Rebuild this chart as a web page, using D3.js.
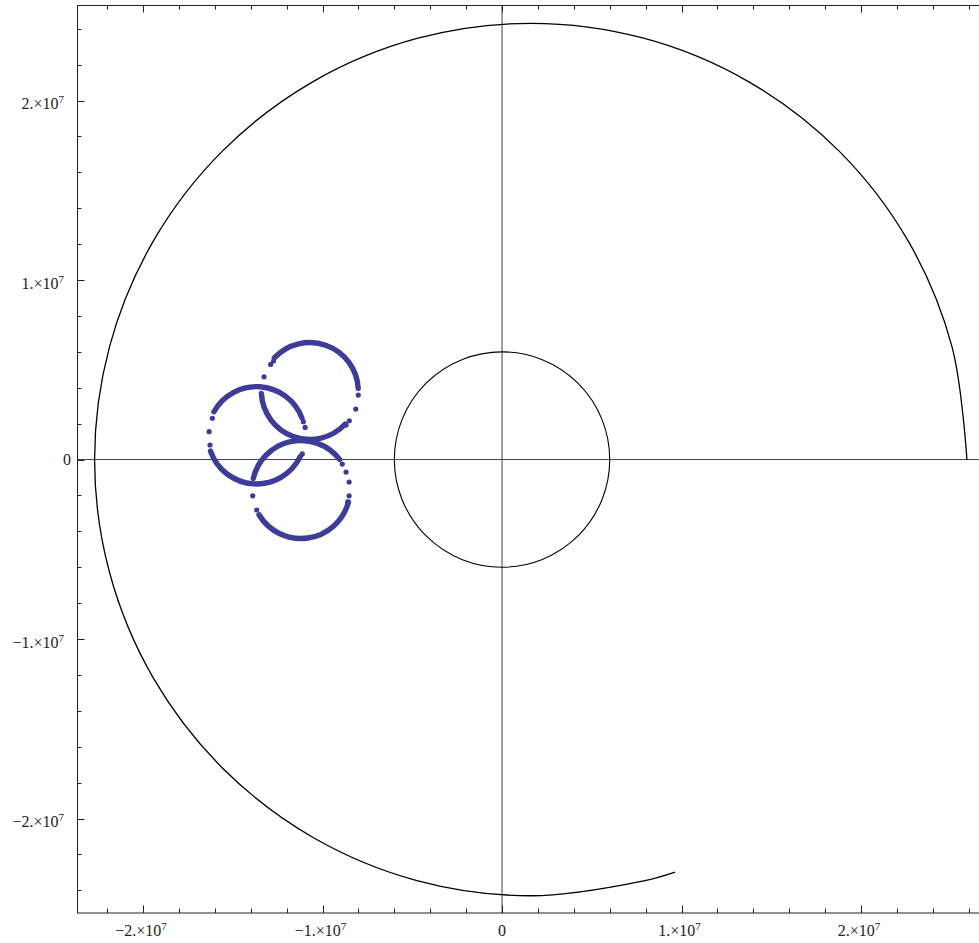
<!DOCTYPE html>
<html>
<head>
<meta charset="utf-8">
<script src="https://cdn.jsdelivr.net/npm/d3@7"></script>
<style>
  body { margin: 0; background: #fff; }
  svg { display: block; }
</style>
</head>
<body>
<svg id="chart" width="979" height="943"></svg>
<script>
// ---- plot range and ticks (metres) ----
const xRange = [-2.368e7, 2.674e7];
const yRange = [-2.526e7, 2.532e7];
const xMajorTicks = [-2e7, -1e7, 0, 1e7, 2e7];
const yMajorTicks = [-2e7, -1e7, 0, 1e7, 2e7];
const xTickLabels = ["−2.×10^7", "−1.×10^7", "0", "1.×10^7", "2.×10^7"];
const yTickLabels = ["−2.×10^7", "−1.×10^7", "0", "1.×10^7", "2.×10^7"];
const minorStep = 2e6;

// ---- central body ----
const bodyRadius = 6.0e6;

// ---- orbit track, counter-clockwise from the start point ----
const orbitX = [2.590e7, 2.507e7, 2.264e7, 1.878e7, 1.375e7, 0.789e7, 0.160e7,
  -0.469e7, -1.055e7, -1.558e7, -1.944e7, -2.187e7, -2.270e7, -2.187e7,
  -1.944e7, -1.558e7, -1.055e7, -0.469e7, 0.160e7, 0.789e7, 0.964e7];
const orbitY = [0, 0.628e7, 1.215e7, 1.718e7, 2.104e7, 2.347e7, 2.430e7,
  2.347e7, 2.104e7, 1.718e7, 1.215e7, 0.628e7, 0, -0.628e7,
  -1.215e7, -1.718e7, -2.104e7, -2.347e7, -2.430e7, -2.347e7, -2.298e7];

// ---- sampled loops: dense runs as arcs (degrees, counter-clockwise) ----
const loopCenterX = [-1.071e7, -1.368e7, -1.120e7];
const loopCenterY = [0.382e7, 0.135e7, -0.167e7];
const loopRadius = [2.70e6, 2.71e6, 2.73e6];
const loopDenseRuns = [
  [[3, 137], [183, 317]],
  [[21, 151], [199, 334]],
  [[38, 167], [211, 345]]
];
// isolated samples between the dense runs
const sparseX = [-1.289e7, -1.273e7, -1.326e7, -0.801e7, -0.815e7, -0.851e7, -0.869e7,
  -1.614e7, -1.632e7, -1.627e7, -1.107e7, -1.097e7, -1.113e7,
  -0.890e7, -0.869e7, -0.852e7, -0.852e7, -0.860e7, -1.367e7, -1.389e7];
const sparseY = [0.530e7, 0.549e7, 0.461e7, 0.359e7, 0.281e7, 0.216e7, 0.192e7,
  0.230e7, 0.155e7, 0.081e7, 0.211e7, 0.179e7, 0.031e7,
  -0.025e7, -0.070e7, -0.125e7, -0.202e7, -0.235e7, -0.281e7, -0.202e7];

const loopColor = "#3d3d99";
const serif = "'Liberation Serif', 'Times New Roman', Times, 'DejaVu Serif', serif";

// ---- layout ----
const frame = { left: 77, right: 982, top: 5, bottom: 913 };
const svg = d3.select("#chart");
const x = d3.scaleLinear().domain(xRange).range([frame.left, frame.right]);
const y = d3.scaleLinear().domain(yRange).range([frame.bottom, frame.top]);
const px = v => Math.round(v) + 0.5;

const plot = svg.append("g");

// zero axes
plot.append("line")
  .attr("x1", frame.left).attr("x2", frame.right)
  .attr("y1", y(0)).attr("y2", y(0))
  .attr("stroke", "#444").attr("stroke-width", 1);
plot.append("line")
  .attr("x1", x(0)).attr("x2", x(0))
  .attr("y1", frame.top).attr("y2", frame.bottom)
  .attr("stroke", "#444").attr("stroke-width", 1);

// central body
plot.append("circle")
  .attr("cx", x(0)).attr("cy", y(0))
  .attr("r", x(bodyRadius) - x(0))
  .attr("fill", "none").attr("stroke", "#000").attr("stroke-width", 1.1);

// orbit
const orbitPts = orbitX.map((v, i) => [v, orbitY[i]]);
plot.append("path")
  .attr("d", d3.line().x(d => x(d[0])).y(d => y(d[1])).curve(d3.curveCatmullRom.alpha(0.5))(orbitPts))
  .attr("fill", "none").attr("stroke", "#000").attr("stroke-width", 1.3);

// loops
loopCenterX.forEach((cxv, i) => {
  const cx = x(cxv), cy = y(loopCenterY[i]);
  const r = x(cxv + loopRadius[i]) - x(cxv);
  loopDenseRuns[i].forEach(([a0, a1]) => {
    const t0 = -a0 * Math.PI / 180, t1 = -a1 * Math.PI / 180;
    const p = d3.path();
    p.moveTo(cx + r * Math.cos(t0), cy + r * Math.sin(t0));
    p.arc(cx, cy, r, t0, t1, true);
    plot.append("path").attr("d", p.toString())
      .attr("fill", "none").attr("stroke", loopColor)
      .attr("stroke-width", 5.4).attr("stroke-linecap", "round");
  });
});
plot.selectAll("circle.sample")
  .data(sparseX.map((v, i) => [v, sparseY[i]]))
  .join("circle").attr("class", "sample")
  .attr("cx", d => x(d[0])).attr("cy", d => y(d[1]))
  .attr("r", 2.6).attr("fill", loopColor);

// ---- frame with inward ticks ----
const minorTicksX = d3.range(-2.2e7, 2.7e7, minorStep).filter(v => Math.abs(v % 1e7) > 1);
const minorTicksY = d3.range(-2.4e7, 2.6e7, minorStep).filter(v => Math.abs(v % 1e7) > 1);

const axes = svg.append("g").attr("stroke", "#222").attr("stroke-width", 1);
axes.append("line").attr("x1", frame.left).attr("x2", frame.right)
  .attr("y1", px(frame.bottom) - 0.5).attr("y2", px(frame.bottom) - 0.5);
axes.append("line").attr("x1", frame.left).attr("x2", frame.right)
  .attr("y1", px(frame.top)).attr("y2", px(frame.top));
axes.append("line").attr("x1", px(frame.left)).attr("x2", px(frame.left))
  .attr("y1", frame.top).attr("y2", frame.bottom);

function tickLines(vals, len) {
  vals.forEach(v => {
    const xv = px(x(v));
    axes.append("line").attr("x1", xv).attr("x2", xv)
      .attr("y1", frame.bottom).attr("y2", frame.bottom - len);
    axes.append("line").attr("x1", xv).attr("x2", xv)
      .attr("y1", frame.top).attr("y2", frame.top + len);
  });
}
function tickLinesY(vals, len) {
  vals.forEach(v => {
    const yv = px(y(v));
    axes.append("line").attr("x1", frame.left).attr("x2", frame.left + len)
      .attr("y1", yv).attr("y2", yv);
  });
}
tickLines(xMajorTicks, 7.5);
tickLines(minorTicksX, 4.5);
tickLinesY(yMajorTicks, 7.5);
tickLinesY(minorTicksY, 4.5);

// tick labels with superscript exponent
function addLabel(g, str) {
  const parts = str.split("^");
  g.append("tspan").text(parts[0]);
  if (parts[1]) {
    g.append("tspan").attr("dy", -6).attr("font-size", 11).text(parts[1]);
  }
}
const fs = 16;
xTickLabels.forEach((lab, i) => {
  const t = svg.append("text")
    .attr("x", x(xMajorTicks[i]) + (lab.includes("^") ? -2 : 0))
    .attr("y", 936).attr("text-anchor", "middle")
    .attr("font-family", serif).attr("font-size", fs).attr("fill", "#222");
  addLabel(t, lab);
});
yTickLabels.forEach((lab, i) => {
  const has = lab.includes("^");
  const t = svg.append("text")
    .attr("x", has ? 64 : 71)
    .attr("y", y(yMajorTicks[i]) + (has ? 8.5 : 5.5))
    .attr("text-anchor", "end")
    .attr("font-family", serif).attr("font-size", fs).attr("fill", "#222");
  addLabel(t, lab);
});
</script>
</body>
</html>
